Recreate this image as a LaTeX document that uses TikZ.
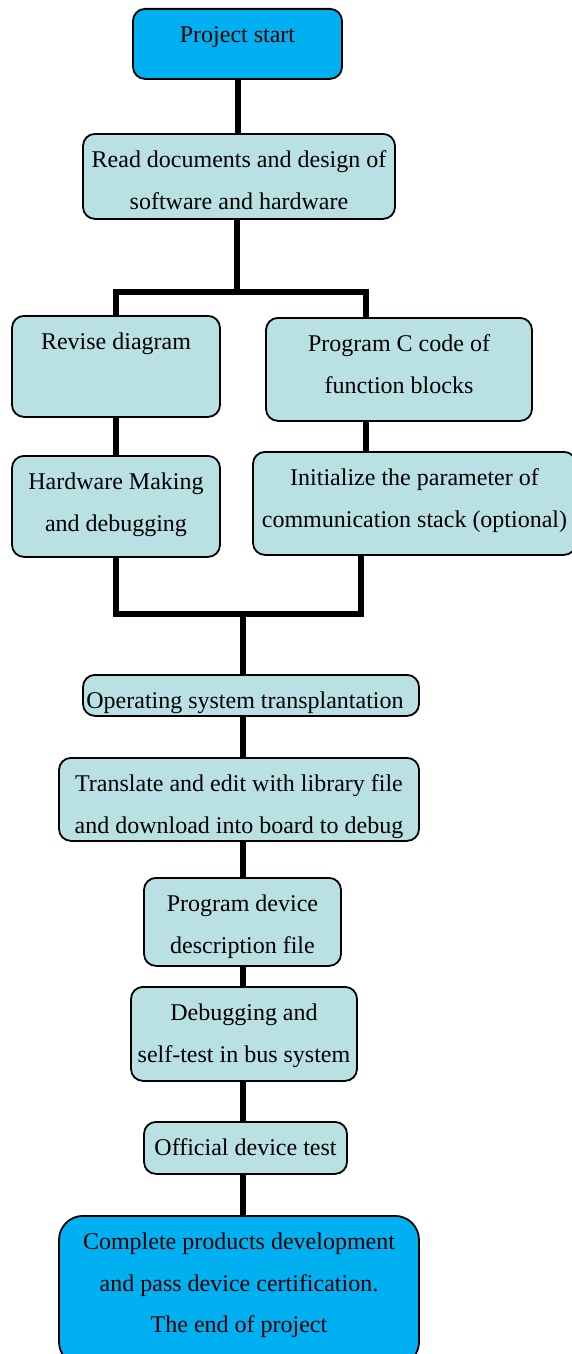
\documentclass[tikz,border=0pt]{standalone}
\usepackage{fontspec}
\setmainfont{Liberation Serif}
\usetikzlibrary{calc}
\definecolor{boxblue}{RGB}{0,176,240}
\definecolor{boxcyan}{RGB}{185,224,227}
\tikzset{
    stepbox/.style={draw, rounded corners=12pt, line width=1.8pt, fill=boxcyan,
        inner sep=0pt, anchor=north, font=\fontsize{24}{41.5}\selectfont},
    endbox/.style={stepbox, fill=boxblue},
    link/.style={line width=6pt},
}
% box of given width and height, text at the top
\newcommand{\steptext}[3]{\parbox[c][#2pt][t]{#1pt}{\centering\rule{0pt}{34pt}\makebox[0pt]{\begin{tabular}[t]{@{}c@{}}#3\end{tabular}}}}

\begin{document}
\begin{tikzpicture}[x=1pt,y=-1pt]
            \useasboundingbox (0,0) rectangle (572,1354);

            \node[endbox] (start) at (237.5,8) {\steptext{209}{70}{Project start}};
            \node[stepbox] (read) at (239,133) {\steptext{312}{85}{Read documents and design of\\software and hardware}};
            \node[stepbox] (revise) at (116,315) {\steptext{208}{101}{Revise diagram}};
            \node[stepbox] (progc) at (399,317) {\steptext{266}{103}{Program C code of\\function blocks}};
            \node[stepbox] (hw) at (116,455) {\steptext{208}{101}{Hardware Making\\and debugging}};
            \node[stepbox] (init) at (414.5,451) {\steptext{323}{103}{Initialize the parameter of\\communication stack (optional)}};
            \node[stepbox] (os) at (251,674) {\steptext{336}{41}{Operating system transplantation\kern12pt}};
            \node[stepbox] (trans) at (239,757) {\steptext{360}{83}{Translate and edit with library file\\and download into board to debug}};
            \node[stepbox] (pdev) at (242.5,877) {\steptext{197}{88}{Program device\\description file}};
            \node[stepbox] (dbg) at (244,986) {\steptext{226}{94}{Debugging and\\self-test in bus system}};
            \node[stepbox] (official) at (245.5,1121) {\steptext{203}{52}{Official device test}};
            \node[endbox, rounded corners=24pt] (done) at (239,1215) {\steptext{360}{150}{Complete products development\\and pass device certification.\\The end of project}};

            \coordinate (split) at (237,292);
            \coordinate (splitR) at (366,292);
            \coordinate (merge) at (243,614);
            \coordinate (mergeR) at (361,614);

            \draw[link] (start.south) -- (start.south |- read.north);
            \draw[link] (read.south -| split) -- (split);
            \draw[link] (revise.north) |- (splitR) -- (splitR |- progc.north);
            \draw[link] (revise) -- (hw);
            \draw[link] (progc.south -| splitR) -- (init.north -| splitR);
            \draw[link] (hw.south) |- (mergeR) -- (mergeR |- init.south);
            \draw[link] (merge) -- (merge |- os.north);
            \foreach \a/\b in {os/trans,trans/pdev,pdev/dbg,dbg/official,official/done}
                \draw[link] (\a.south -| merge) -- (\b.north -| merge);
        \end{tikzpicture}
\end{document}
